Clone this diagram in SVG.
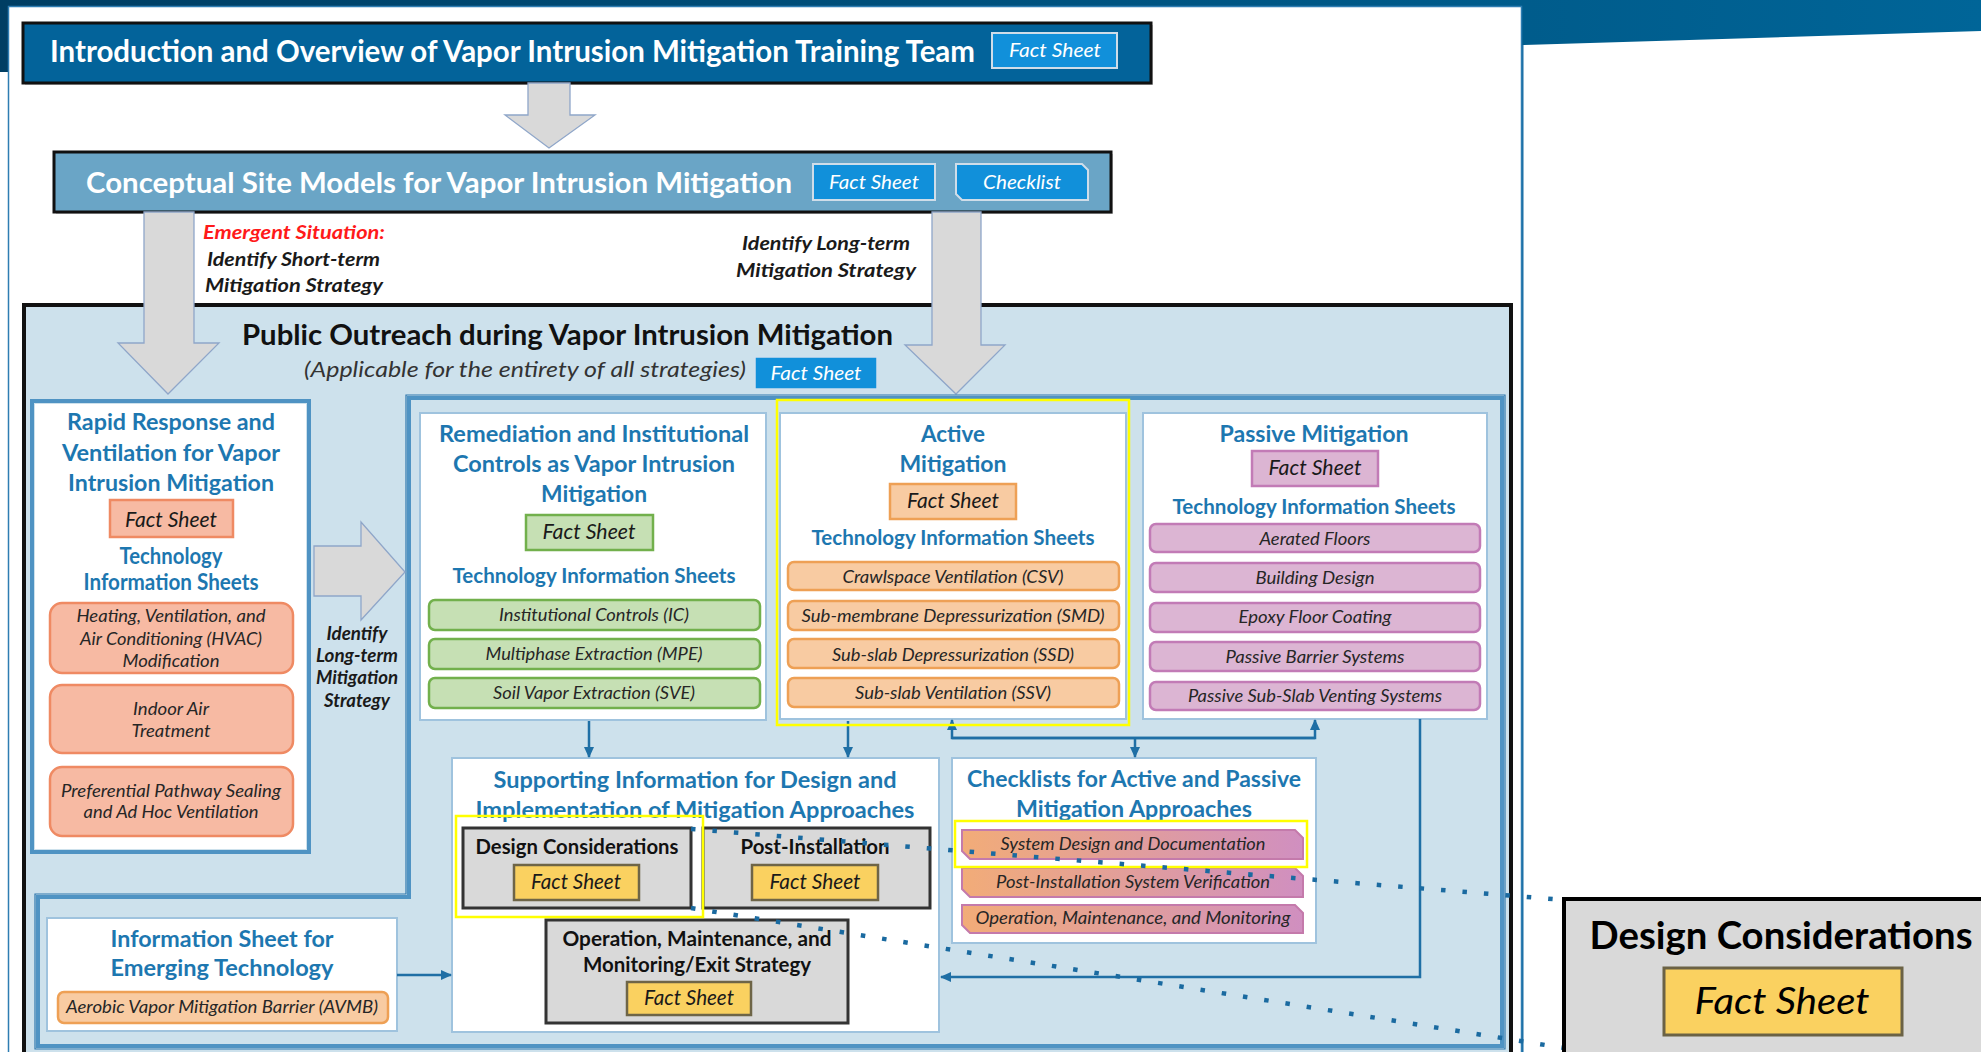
<svg xmlns="http://www.w3.org/2000/svg" width="1981" height="1052" viewBox="0 0 1981 1052">
<defs>
<linearGradient id="hdr" x1="0" y1="0" x2="1" y2="0"><stop offset="0" stop-color="#003e63"/><stop offset="1" stop-color="#006598"/></linearGradient>
<linearGradient id="chk" x1="0" y1="0" x2="1" y2="0"><stop offset="0" stop-color="#f2ac78"/><stop offset="1" stop-color="#d08fc0"/></linearGradient>
<marker id="ah" markerUnits="userSpaceOnUse" markerWidth="11" markerHeight="10" refX="10" refY="5" orient="auto"><path d="M0,0 L11,5 L0,10 Z" fill="#1f6fa5"/></marker>
<style>
text { font-family: Lato, "Liberation Sans", sans-serif; }
.wt { fill:#fff; font-weight:bold; font-size:30px; }
.btn { fill:#fff; font-style:italic; font-size:19px; text-anchor:middle; }
.bt { fill:#1d77b0; font-weight:bold; font-size:22px; text-anchor:middle; }
.it { fill:#262626; font-style:italic; font-size:18px; text-anchor:middle; }
.fst { fill:#1a1a1a; font-style:italic; font-size:21px; text-anchor:middle; }
.bk { fill:#111; font-weight:bold; font-size:20px; text-anchor:middle; }
.lb { fill:#1a1a1a; font-weight:bold; font-style:italic; font-size:19px; }
.wbox { fill:#fff; stroke:#9fc3de; stroke-width:2; }
.frame { fill:none; stroke:#4f93c3; stroke-width:4; }
.garrow { fill:#d9d9d9; stroke:#8fa6c9; stroke-width:1.3; }
.gbox { fill:#d9d9d9; stroke:#333; stroke-width:3; }
.yfs { fill:#fad160; stroke:#6e6547; stroke-width:2.5; }
.hl { fill:none; stroke:#ffff00; stroke-width:2.5; }
.conn { fill:none; stroke:#1f6fa5; stroke-width:2.5; }
.dot { fill:none; stroke:#1a6aa0; stroke-width:4.5; stroke-dasharray:4.5 17; }
.sal { fill:#f7baa3; stroke:#ef8a63; stroke-width:2.5; }
.grn { fill:#c6e0b4; stroke:#72b04c; stroke-width:2.5; }
.org { fill:#f8cba2; stroke:#eea055; stroke-width:2.5; }
.pur { fill:#dcb5d3; stroke:#c27bb6; stroke-width:2.5; }
.chk { fill:url(#chk); stroke:#c47aab; stroke-width:2; }
.bluebtn { fill:#1190da; stroke:#cfdde9; stroke-width:2; }
</style>
</defs>

<!-- background -->
<rect x="0" y="0" width="1981" height="72" fill="url(#hdr)"/>
<polygon points="1522,45 1981,31 1981,1052 1522,1052" fill="#fff"/>
<line x1="1522.5" y1="45" x2="1522.5" y2="1052" stroke="#1a6ea3" stroke-width="2"/>
<rect x="8.5" y="6.5" width="1513" height="1050" fill="#fff" stroke="#2e7db2" stroke-width="1.5"/>

<g id="intro">
<rect x="25" y="25" width="1128" height="60" fill="#9a9a9a" opacity="0.5"/>
<rect x="23" y="23" width="1128" height="60" fill="#03639a" stroke="#111" stroke-width="3"/>
<text x="50" y="62" class="wt" textLength="925" lengthAdjust="spacingAndGlyphs">Introduction and Overview of Vapor Intrusion Mitigation Training Team</text>
<rect x="992" y="33" width="125" height="35" class="bluebtn"/>
<text x="1055" y="57" class="btn" textLength="92" lengthAdjust="spacingAndGlyphs">Fact Sheet</text>
</g>

<g id="arrow-intro-csm">
<polygon class="garrow" points="528,83 570,83 570,115 595,115 549,148 505,115 528,115"/>
</g>

<g id="csm">
<rect x="56" y="154" width="1057" height="60" fill="#9a9a9a" opacity="0.5"/>
<rect x="54" y="152" width="1057" height="60" fill="#6aa5c6" stroke="#111" stroke-width="3"/>
<text x="86" y="193" class="wt" style="font-size:29px" textLength="706" lengthAdjust="spacingAndGlyphs">Conceptual Site Models for Vapor Intrusion Mitigation</text>
<rect x="813" y="164" width="122" height="36" class="bluebtn"/>
<text x="874" y="189" class="btn" textLength="90" lengthAdjust="spacingAndGlyphs">Fact Sheet</text>
<path d="M956,164 H1082 L1088,170 V200 H962 L956,194 Z" class="bluebtn"/>
<text x="1022" y="189" class="btn" textLength="78" lengthAdjust="spacingAndGlyphs">Checklist</text>
</g>

<g id="labels-top">
<text x="203" y="239" class="lb" style="fill:#ff1a1a" textLength="182" lengthAdjust="spacingAndGlyphs">Emergent Situation:</text>
<text x="207" y="266" class="lb" textLength="173" lengthAdjust="spacingAndGlyphs">Identify Short-term</text>
<text x="205" y="292" class="lb" textLength="178" lengthAdjust="spacingAndGlyphs">Mitigation Strategy</text>
<text x="742" y="250" class="lb" textLength="168" lengthAdjust="spacingAndGlyphs">Identify Long-term</text>
<text x="736" y="277" class="lb" textLength="180" lengthAdjust="spacingAndGlyphs">Mitigation Strategy</text>
</g>

<g id="public-outreach">
<rect x="24" y="305" width="1487" height="770" fill="#cde1ec" stroke="#111" stroke-width="4"/>
<text x="242" y="345" style="font-weight:bold;font-size:28px;fill:#111" textLength="651" lengthAdjust="spacingAndGlyphs">Public Outreach during Vapor Intrusion Mitigation</text>
<text x="304" y="377" style="font-style:italic;font-size:22px;fill:#333" textLength="442" lengthAdjust="spacingAndGlyphs">(Applicable for the entirety of all strategies)</text>
<rect x="755" y="357" width="122" height="32" fill="#1190da" stroke="#cfe0ee" stroke-width="1.5"/>
<text x="816" y="380" class="btn" textLength="91" lengthAdjust="spacingAndGlyphs">Fact Sheet</text>
</g>

<g id="arrows-csm-down">
<polygon class="garrow" points="144,212 194,212 194,343 219,343 168,394 118,343 144,343"/>
<polygon class="garrow" points="932,212 981,212 981,345 1005,345 956,394 905,345 932,345"/>
</g>

<g id="inner-frame">
<polygon class="frame" points="409,398 1502,398 1502,1046 38,1046 38,897 409,897"/>
<polygon points="406,395 1505,395 1505,1049 35,1049 35,894 406,894" fill="none" stroke="#2f78ad" stroke-width="1.2"/>
</g>

<g id="rapid-response">
<rect x="32" y="401" width="277" height="451" fill="none" stroke="#4f93c3" stroke-width="4"/>
<rect x="35" y="404" width="271" height="445" fill="#fff"/>
<text x="171" y="430" class="bt" textLength="208" lengthAdjust="spacingAndGlyphs">Rapid Response and</text>
<text x="171" y="461" class="bt" textLength="218" lengthAdjust="spacingAndGlyphs">Ventilation for Vapor</text>
<text x="171" y="491" class="bt" textLength="206" lengthAdjust="spacingAndGlyphs">Intrusion Mitigation</text>
<rect x="110" y="500" width="123" height="37" class="sal"/>
<text x="171" y="527" class="fst" textLength="92" lengthAdjust="spacingAndGlyphs">Fact Sheet</text>
<text x="171" y="564" class="bt" textLength="103" lengthAdjust="spacingAndGlyphs">Technology</text>
<text x="171" y="590" class="bt" textLength="175" lengthAdjust="spacingAndGlyphs">Information Sheets</text>
<rect x="50" y="603" width="243" height="70" rx="12" class="sal"/>
<text x="171" y="622" class="it" textLength="189" lengthAdjust="spacingAndGlyphs">Heating, Ventilation, and</text>
<text x="171" y="645" class="it" textLength="182" lengthAdjust="spacingAndGlyphs">Air Conditioning (HVAC)</text>
<text x="171" y="667" class="it" textLength="97" lengthAdjust="spacingAndGlyphs">Modification</text>
<rect x="50" y="685" width="243" height="68" rx="12" class="sal"/>
<text x="171" y="715" class="it" textLength="76" lengthAdjust="spacingAndGlyphs">Indoor Air</text>
<text x="171" y="737" class="it" textLength="79" lengthAdjust="spacingAndGlyphs">Treatment</text>
<rect x="50" y="767" width="243" height="69" rx="12" class="sal"/>
<text x="171" y="797" class="it" textLength="220" lengthAdjust="spacingAndGlyphs">Preferential Pathway Sealing</text>
<text x="171" y="818" class="it" textLength="175" lengthAdjust="spacingAndGlyphs">and Ad Hoc Ventilation</text>
</g>

<g id="arrow-long-term">
<polygon class="garrow" points="314,546 361,546 361,522 405,572 361,620 361,596 314,596"/>
<text x="357" y="640" class="lb" style="font-size:18px;text-anchor:middle" textLength="61" lengthAdjust="spacingAndGlyphs">Identify</text>
<text x="357" y="662" class="lb" style="font-size:18px;text-anchor:middle" textLength="82" lengthAdjust="spacingAndGlyphs">Long-term</text>
<text x="357" y="684" class="lb" style="font-size:18px;text-anchor:middle" textLength="82" lengthAdjust="spacingAndGlyphs">Mitigation</text>
<text x="357" y="707" class="lb" style="font-size:18px;text-anchor:middle" textLength="66" lengthAdjust="spacingAndGlyphs">Strategy</text>
</g>

<g id="remediation">
<rect x="420" y="413" width="346" height="307" class="wbox"/>
<text x="594" y="442" class="bt" textLength="310" lengthAdjust="spacingAndGlyphs">Remediation and Institutional</text>
<text x="594" y="472" class="bt" textLength="282" lengthAdjust="spacingAndGlyphs">Controls as Vapor Intrusion</text>
<text x="594" y="502" class="bt" textLength="106" lengthAdjust="spacingAndGlyphs">Mitigation</text>
<rect x="526" y="515" width="127" height="35" class="grn"/>
<text x="589" y="539" class="fst" textLength="93" lengthAdjust="spacingAndGlyphs">Fact Sheet</text>
<text x="594" y="583" class="bt" style="font-size:21px" textLength="283" lengthAdjust="spacingAndGlyphs">Technology Information Sheets</text>
<rect x="429" y="600" width="331" height="30" rx="6" class="grn"/>
<text x="594" y="621" class="it" textLength="190" lengthAdjust="spacingAndGlyphs">Institutional Controls (IC)</text>
<rect x="429" y="639" width="331" height="30" rx="6" class="grn"/>
<text x="594" y="660" class="it" textLength="217" lengthAdjust="spacingAndGlyphs">Multiphase Extraction (MPE)</text>
<rect x="429" y="678" width="331" height="30" rx="6" class="grn"/>
<text x="594" y="699" class="it" textLength="202" lengthAdjust="spacingAndGlyphs">Soil Vapor Extraction (SVE)</text>
</g>

<g id="active">
<rect x="780" y="413" width="346" height="306" class="wbox"/>
<text x="953" y="442" class="bt" textLength="64" lengthAdjust="spacingAndGlyphs">Active</text>
<text x="953" y="472" class="bt" textLength="107" lengthAdjust="spacingAndGlyphs">Mitigation</text>
<rect x="890" y="484" width="126" height="35" class="org"/>
<text x="953" y="508" class="fst" textLength="92" lengthAdjust="spacingAndGlyphs">Fact Sheet</text>
<text x="953" y="545" class="bt" style="font-size:21px" textLength="283" lengthAdjust="spacingAndGlyphs">Technology Information Sheets</text>
<rect x="788" y="562" width="331" height="28" rx="6" class="org"/>
<text x="953" y="583" class="it" textLength="221" lengthAdjust="spacingAndGlyphs">Crawlspace Ventilation (CSV)</text>
<rect x="788" y="601" width="331" height="29" rx="6" class="org"/>
<text x="953" y="622" class="it" textLength="303" lengthAdjust="spacingAndGlyphs">Sub-membrane Depressurization (SMD)</text>
<rect x="788" y="639" width="331" height="29" rx="6" class="org"/>
<text x="953" y="661" class="it" textLength="242" lengthAdjust="spacingAndGlyphs">Sub-slab Depressurization (SSD)</text>
<rect x="788" y="678" width="331" height="29" rx="6" class="org"/>
<text x="953" y="699" class="it" textLength="196" lengthAdjust="spacingAndGlyphs">Sub-slab Ventilation (SSV)</text>
</g>

<g id="passive">
<rect x="1143" y="413" width="344" height="306" class="wbox"/>
<text x="1314" y="442" class="bt" textLength="189" lengthAdjust="spacingAndGlyphs">Passive Mitigation</text>
<rect x="1252" y="451" width="126" height="35" class="pur"/>
<text x="1315" y="475" class="fst" textLength="93" lengthAdjust="spacingAndGlyphs">Fact Sheet</text>
<text x="1314" y="514" class="bt" style="font-size:21px" textLength="283" lengthAdjust="spacingAndGlyphs">Technology Information Sheets</text>
<rect x="1150" y="524" width="330" height="28" rx="6" class="pur"/>
<text x="1315" y="545" class="it" textLength="111" lengthAdjust="spacingAndGlyphs">Aerated Floors</text>
<rect x="1150" y="563" width="330" height="29" rx="6" class="pur"/>
<text x="1315" y="584" class="it" textLength="119" lengthAdjust="spacingAndGlyphs">Building Design</text>
<rect x="1150" y="603" width="330" height="29" rx="6" class="pur"/>
<text x="1315" y="623" class="it" textLength="153" lengthAdjust="spacingAndGlyphs">Epoxy Floor Coating</text>
<rect x="1150" y="642" width="330" height="29" rx="6" class="pur"/>
<text x="1315" y="663" class="it" textLength="179" lengthAdjust="spacingAndGlyphs">Passive Barrier Systems</text>
<rect x="1150" y="682" width="330" height="28" rx="6" class="pur"/>
<text x="1315" y="702" class="it" textLength="254" lengthAdjust="spacingAndGlyphs">Passive Sub-Slab Venting Systems</text>
</g>

<g id="supporting">
<rect x="452" y="758" width="487" height="274" class="wbox"/>
<text x="695" y="788" class="bt" textLength="403" lengthAdjust="spacingAndGlyphs">Supporting Information for Design and</text>
<text x="695" y="818" class="bt" textLength="439" lengthAdjust="spacingAndGlyphs">Implementation of Mitigation Approaches</text>
</g>

<g id="design-considerations">
<rect x="463" y="828" width="228" height="80" class="gbox"/>
<text x="577" y="854" class="bk" textLength="203" lengthAdjust="spacingAndGlyphs">Design Considerations</text>
<rect x="514" y="865" width="125" height="35" class="yfs"/>
<text x="576" y="889" class="fst" textLength="90" lengthAdjust="spacingAndGlyphs">Fact Sheet</text>
</g>

<g id="post-installation">
<rect x="703" y="828" width="227" height="80" class="gbox"/>
<text x="815" y="854" class="bk" textLength="149" lengthAdjust="spacingAndGlyphs">Post-Installation</text>
<rect x="752" y="865" width="126" height="35" class="yfs"/>
<text x="815" y="889" class="fst" textLength="91" lengthAdjust="spacingAndGlyphs">Fact Sheet</text>
</g>

<g id="omm">
<rect x="546" y="920" width="302" height="103" class="gbox"/>
<text x="697" y="946" class="bk" textLength="269" lengthAdjust="spacingAndGlyphs">Operation, Maintenance, and</text>
<text x="697" y="972" class="bk" textLength="228" lengthAdjust="spacingAndGlyphs">Monitoring/Exit Strategy</text>
<rect x="627" y="982" width="124" height="33" class="yfs"/>
<text x="689" y="1005" class="fst" textLength="90" lengthAdjust="spacingAndGlyphs">Fact Sheet</text>
</g>

<g id="checklists">
<rect x="952" y="758" width="364" height="185" class="wbox"/>
<text x="1134" y="787" class="bt" textLength="334" lengthAdjust="spacingAndGlyphs">Checklists for Active and Passive</text>
<text x="1134" y="817" class="bt" textLength="236" lengthAdjust="spacingAndGlyphs">Mitigation Approaches</text>
<path class="chk" d="M962,830 H1295 L1303,838 V859 H970 L962,851 Z"/>
<text x="1133" y="850" class="it" textLength="265" lengthAdjust="spacingAndGlyphs">System Design and Documentation</text>
<path class="chk" d="M962,868 H1295 L1303,876 V897 H970 L962,889 Z"/>
<text x="1133" y="888" class="it" textLength="274" lengthAdjust="spacingAndGlyphs">Post-Installation System Verification</text>
<path class="chk" d="M962,905 H1295 L1303,913 V933 H970 L962,925 Z"/>
<text x="1133" y="924" class="it" textLength="315" lengthAdjust="spacingAndGlyphs">Operation, Maintenance, and Monitoring</text>
</g>

<g id="emerging">
<rect x="47" y="918" width="350" height="113" class="wbox"/>
<text x="222" y="947" class="bt" textLength="223" lengthAdjust="spacingAndGlyphs">Information Sheet for</text>
<text x="222" y="976" class="bt" textLength="223" lengthAdjust="spacingAndGlyphs">Emerging Technology</text>
<rect x="58" y="992" width="330" height="31" rx="6" class="org"/>
<text x="222" y="1013" class="it" textLength="312" lengthAdjust="spacingAndGlyphs">Aerobic Vapor Mitigation Barrier (AVMB)</text>
</g>

<g id="connectors">
<path class="conn" d="M589,721 V757" marker-end="url(#ah)"/>
<path class="conn" d="M848,721 V757" marker-end="url(#ah)"/>
<path class="conn" d="M1135,738 V757" marker-end="url(#ah)"/>
<path class="conn" d="M1315,738 H952 V720" marker-end="url(#ah)"/>
<path class="conn" d="M952,738 H1315 V720" marker-end="url(#ah)"/>
<path class="conn" d="M1420,719 V977 H941" marker-end="url(#ah)"/>
<path class="conn" d="M397,975 H451" marker-end="url(#ah)"/>
</g>

<g id="highlights">
<rect x="777" y="400" width="352" height="325" class="hl"/>
<rect x="456" y="816" width="247" height="101" class="hl"/>
<rect x="955" y="821" width="352" height="46" class="hl"/>
</g>

<g id="zoom-callout">
<path class="dot" d="M691,829 L1564,900"/>
<path class="dot" d="M691,908 L1564,1048"/>
<rect x="1564" y="899" width="440" height="160" fill="#d9d9d9" stroke="#000" stroke-width="4"/>
<text x="1781" y="949" style="font-weight:bold;font-size:38px;fill:#000;text-anchor:middle" textLength="383" lengthAdjust="spacingAndGlyphs">Design Considerations</text>
<rect x="1664" y="968" width="238" height="67" fill="#fad160" stroke="#6b6245" stroke-width="3"/>
<text x="1782" y="1014" style="font-style:italic;font-size:37px;fill:#000;text-anchor:middle" textLength="175" lengthAdjust="spacingAndGlyphs">Fact Sheet</text>
</g>
</svg>
